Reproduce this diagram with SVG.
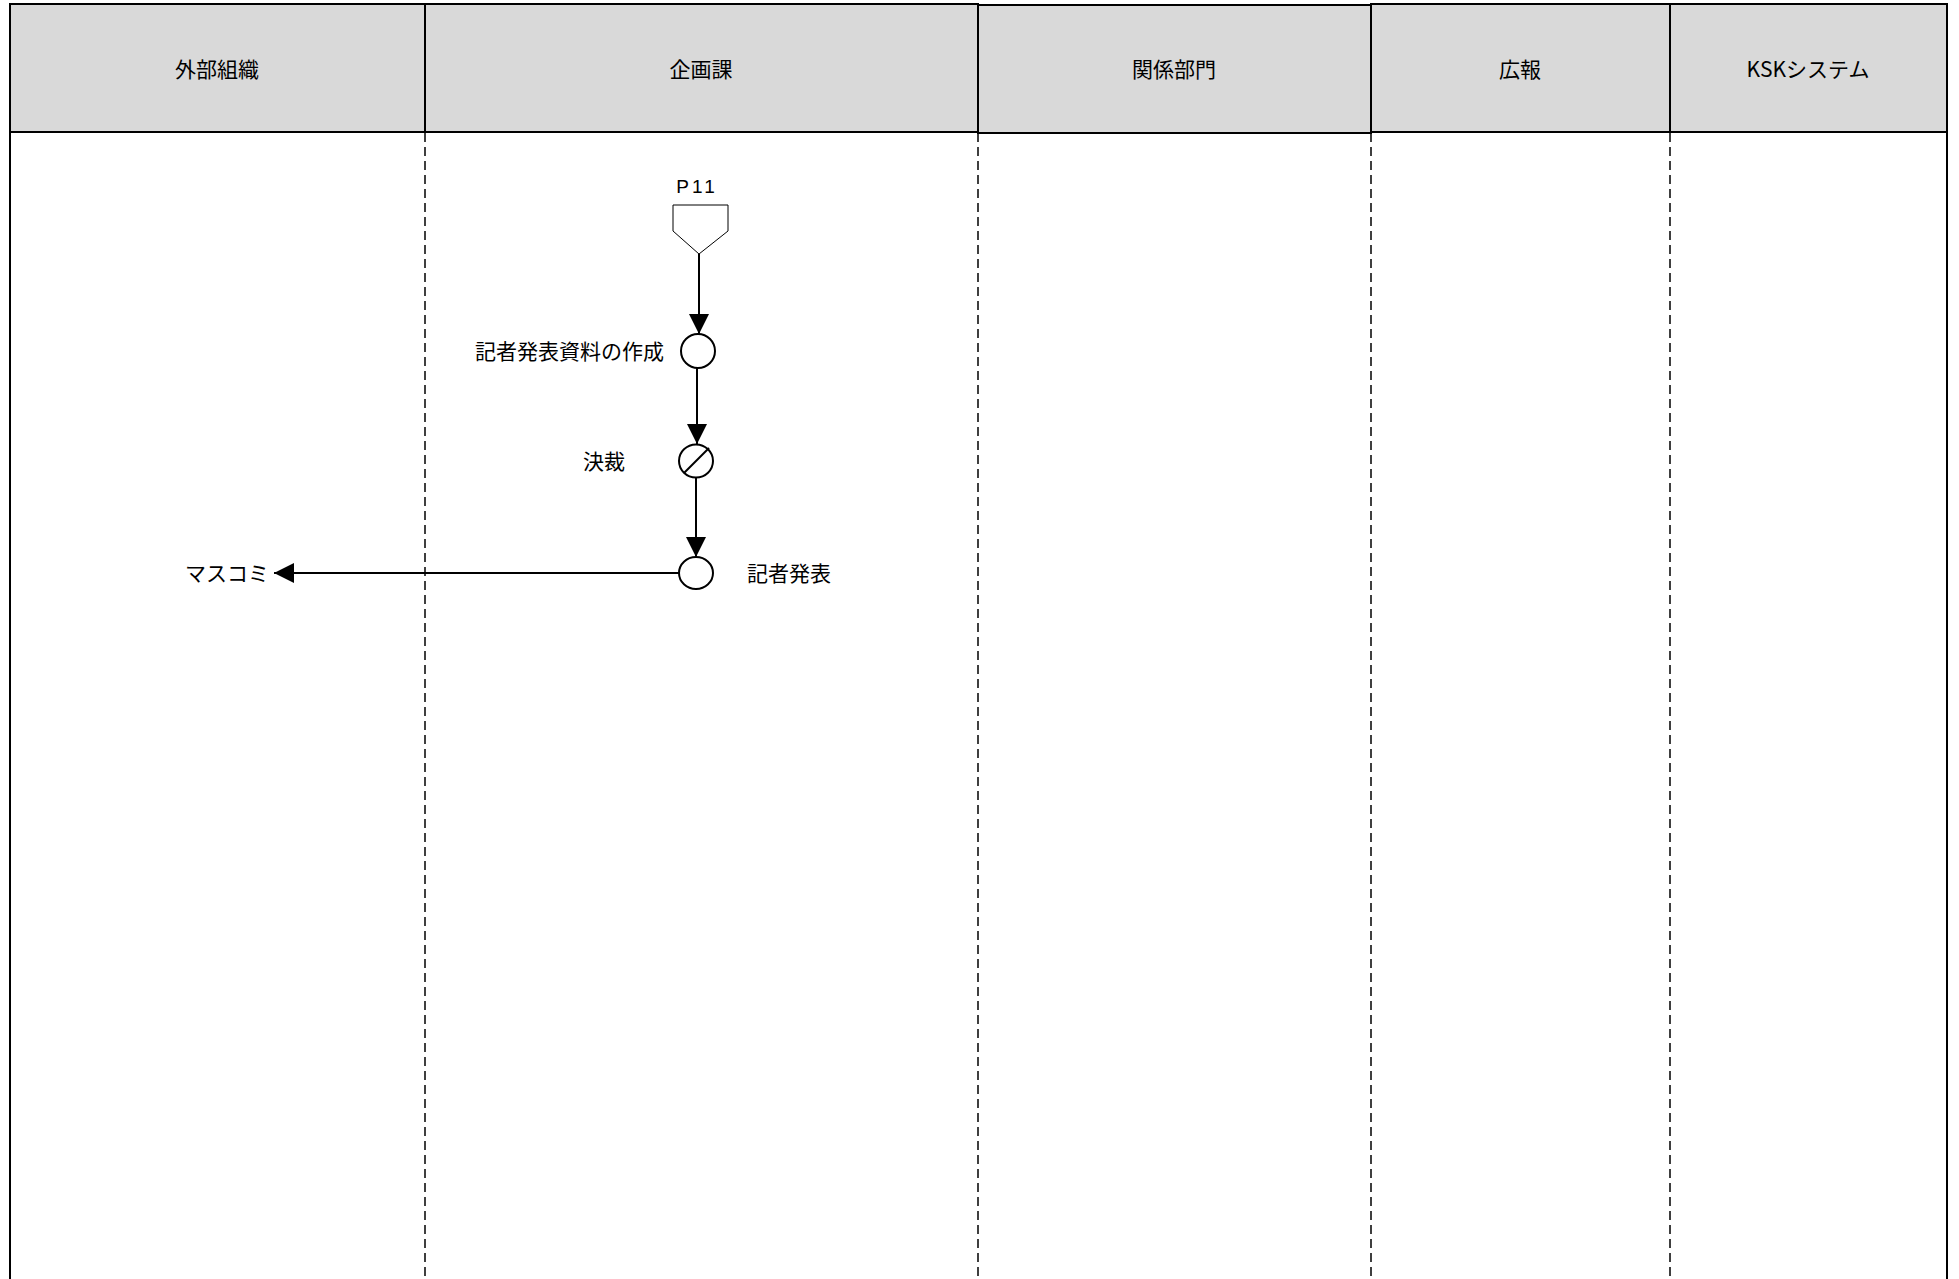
<svg xmlns="http://www.w3.org/2000/svg" width="1959" height="1279" viewBox="0 0 1959 1279">
<style>
.hdr{fill:#d9d9d9;stroke:#000;stroke-width:2}
.ht{font-family:"Noto Sans CJK JP",sans-serif;font-size:21px;fill:#000;text-anchor:middle}
.lbl{font-family:"Noto Sans CJK JP",sans-serif;font-size:21px;fill:#000}
.dash{stroke:#000;stroke-width:1.5;stroke-dasharray:9 5;fill:none}
.frame{stroke:#000;stroke-width:2;fill:none}
.conn{stroke:#000;stroke-width:2;fill:none}
.node{fill:#fff;stroke:#000;stroke-width:2}
</style>
<defs>
<marker id="ah" markerUnits="userSpaceOnUse" markerWidth="20" markerHeight="20" viewBox="0 0 20 20" refX="20" refY="10" orient="auto">
<path d="M0,0 L20,10 L0,20 Z" fill="#000"/>
</marker>
</defs>
<rect width="1959" height="1279" fill="#fff"/>
<g id="lanes">
<rect class="hdr" x="10" y="4" width="415" height="128"/>
<rect class="hdr" x="425" y="4" width="553" height="128"/>
<rect class="hdr" x="978" y="5" width="393" height="128"/>
<rect class="hdr" x="1371" y="4" width="299" height="128"/>
<rect class="hdr" x="1670" y="4" width="277" height="128"/>
<text class="ht" x="217" y="77">外部組織</text>
<text class="ht" x="701" y="77">企画課</text>
<text class="ht" x="1174" y="77">関係部門</text>
<text class="ht" x="1520" y="77">広報</text>
<text class="ht" x="1808" y="77">KSKシステム</text>
<line class="frame" x1="10" y1="132" x2="10" y2="1285"/>
<line class="frame" x1="1947" y1="132" x2="1947" y2="1285"/>
<line class="dash" x1="425" y1="133" x2="425" y2="1279"/>
<line class="dash" x1="978" y1="133" x2="978" y2="1279"/>
<line class="dash" x1="1371" y1="133" x2="1371" y2="1279"/>
<line class="dash" x1="1670" y1="133" x2="1670" y2="1279"/>
</g>
<g id="connectors">
<line class="conn" x1="699" y1="254" x2="699" y2="334" marker-end="url(#ah)"/>
<line class="conn" x1="697" y1="368" x2="697" y2="444" marker-end="url(#ah)"/>
<line class="conn" x1="696" y1="478" x2="696" y2="557" marker-end="url(#ah)"/>
<line class="conn" x1="679" y1="573" x2="274" y2="573" marker-end="url(#ah)"/>
</g>
<g id="node-p11">
<text x="697" y="193" font-family="Liberation Sans, sans-serif" font-size="19" letter-spacing="3" text-anchor="middle">P11</text>
<polygon points="673,205 728,205 728,231 699,254 673,231" fill="#fff" stroke="#000" stroke-width="1"/>
</g>
<g id="node-create">
<ellipse class="node" cx="698" cy="351" rx="17" ry="17"/>
<text class="lbl" x="664" y="359" text-anchor="end">記者発表資料の作成</text>
</g>
<g id="node-approve">
<ellipse class="node" cx="696" cy="461" rx="17" ry="16.5"/>
<line x1="684" y1="473" x2="709" y2="448" stroke="#000" stroke-width="2"/>
<text class="lbl" x="583" y="469">決裁</text>
</g>
<g id="node-press">
<ellipse class="node" cx="696" cy="573" rx="17" ry="16"/>
<text class="lbl" x="747" y="581">記者発表</text>
</g>
<g id="node-media">
<text class="lbl" x="185" y="581">マスコミ</text>
</g>
</svg>
